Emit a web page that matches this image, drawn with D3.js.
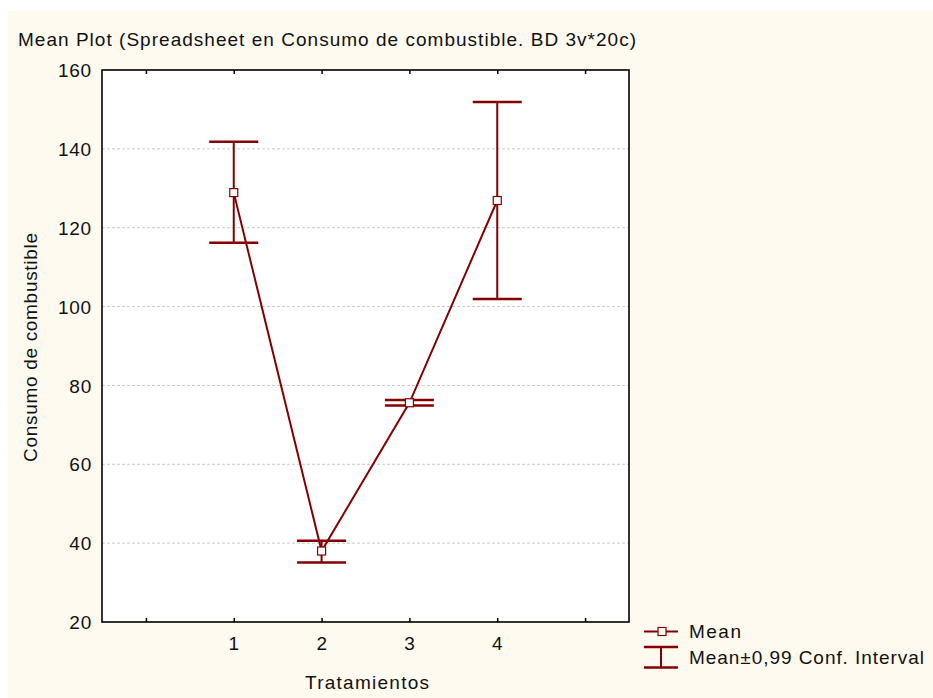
<!DOCTYPE html>
<html lang="es">
<head>
    <meta charset="UTF-8">
    <title>Mean Plot</title>
    <script src="https://d3js.org/d3.v7.min.js"></script>
    <style>
        body { margin: 0; background: #fff; }
        text { font-family: "Liberation Sans", Arial, sans-serif; fill: #111; }
    </style>
</head>
<body>
    <script>
        const categories = [1, 2, 3, 4];
        const means = [128.9, 38, 75.6, 126.9];
        const upper = [141.8, 40.6, 76.3, 151.9];
        const lower = [116.2, 35.1, 74.9, 101.9];
        const yTicks = [20, 40, 60, 80, 100, 120, 140, 160];
        const gridTicks = [40, 60, 80, 100, 120, 140];

        const width = 933, height = 698;
        const plotLeft = 102, plotTop = 70, plotRight = 629, plotBottom = 622;
        const red = "#850000";

        const svg = d3.select("body").append("svg")
            .attr("width", width)
            .attr("height", height);

        svg.append("rect")
            .attr("x", 8).attr("y", 11)
            .attr("width", width - 8).attr("height", height - 11)
            .attr("fill", "#fffaf0");

        const x = d3.scaleLinear().domain([-0.5, 5.5]).range([plotLeft, plotRight]);
        const y = d3.scaleLinear().domain([20, 160]).range([plotBottom, plotTop]);

        svg.append("rect")
            .attr("x", plotLeft).attr("y", plotTop)
            .attr("width", plotRight - plotLeft).attr("height", plotBottom - plotTop)
            .attr("fill", "#fff");

        // grid
        svg.append("g").selectAll("line").data(gridTicks).enter().append("line")
            .attr("x1", plotLeft).attr("x2", plotRight)
            .attr("y1", d => y(d)).attr("y2", d => y(d))
            .attr("stroke", "#c8c8c8")
            .attr("stroke-dasharray", "3,2");

        // axes
        const xTicks = [0, 1, 2, 3, 4, 5];
        const fmt = d => (d >= 1 && d <= 4) ? d : "";

        svg.append("g")
            .attr("transform", `translate(0,${plotBottom})`)
            .call(d3.axisBottom(x).tickValues(xTicks).tickFormat(fmt)
                .tickSizeInner(-4).tickSizeOuter(0).tickPadding(15));

        svg.append("g")
            .attr("transform", `translate(0,${plotTop})`)
            .call(d3.axisBottom(x).tickValues(xTicks).tickFormat("")
                .tickSizeInner(4).tickSizeOuter(0));

        svg.append("g")
            .attr("class", "yaxis")
            .attr("transform", `translate(${plotLeft},0)`)
            .call(d3.axisLeft(y).tickValues(yTicks).tickSize(0).tickPadding(10));

        svg.selectAll(".domain").remove();
        svg.selectAll(".tick line").attr("stroke", "#000").attr("stroke-width", 1.5);
        svg.selectAll(".tick text").attr("font-size", 19)
            .attr("letter-spacing", 0.8)
            .attr("font-family", "'Liberation Sans', Arial, sans-serif").attr("fill", "#111");
        svg.selectAll(".yaxis .tick text").attr("dy", "0.35em");

        svg.append("rect")
            .attr("x", plotLeft).attr("y", plotTop)
            .attr("width", plotRight - plotLeft).attr("height", plotBottom - plotTop)
            .attr("fill", "none")
            .attr("stroke", "#000")
            .attr("stroke-width", 1.6);

        // error bars
        const bars = svg.append("g");
        categories.forEach((c, i) => {
            bars.append("line")
                .attr("x1", x(c)).attr("x2", x(c))
                .attr("y1", y(upper[i])).attr("y2", y(lower[i]))
                .attr("stroke", red).attr("stroke-width", 2);
            [upper[i], lower[i]].forEach(v => {
                bars.append("line")
                    .attr("x1", x(c) - 24.5).attr("x2", x(c) + 24.5)
                    .attr("y1", y(v)).attr("y2", y(v))
                    .attr("stroke", red).attr("stroke-width", 2.5);
            });
        });

        // mean line
        const line = d3.line().x((d, i) => x(categories[i])).y(d => y(d));
        svg.append("path")
            .datum(means)
            .attr("d", line)
            .attr("fill", "none")
            .attr("stroke", red)
            .attr("stroke-width", 2);

        svg.append("g").selectAll("rect").data(means).enter().append("rect")
            .attr("x", (d, i) => x(categories[i]) - 4)
            .attr("y", d => y(d) - 4)
            .attr("width", 8).attr("height", 8)
            .attr("fill", "#fff")
            .attr("stroke", red)
            .attr("stroke-width", 1.2);

        // texts
        svg.append("text")
            .attr("x", 18).attr("y", 46)
            .attr("font-size", 19)
            .attr("textLength", 618).attr("lengthAdjust", "spacing")
            .text("Mean Plot (Spreadsheet en Consumo de combustible. BD 3v*20c)");

        svg.append("text")
            .attr("transform", "translate(37,347.5) rotate(-90)")
            .attr("text-anchor", "middle")
            .attr("font-size", 19)
            .attr("textLength", 229).attr("lengthAdjust", "spacing")
            .text("Consumo de combustible");

        svg.append("text")
            .attr("x", 367).attr("y", 688.5)
            .attr("text-anchor", "middle")
            .attr("font-size", 19)
            .attr("textLength", 124).attr("lengthAdjust", "spacing")
            .text("Tratamientos");

        // legend
        const lg = svg.append("g");
        lg.append("line")
            .attr("x1", 644).attr("x2", 678).attr("y1", 631.5).attr("y2", 631.5)
            .attr("stroke", red).attr("stroke-width", 2);
        lg.append("rect")
            .attr("x", 658).attr("y", 627.5).attr("width", 8).attr("height", 8)
            .attr("fill", "#fff").attr("stroke", red).attr("stroke-width", 1.2);
        lg.append("text").attr("x", 689).attr("y", 637.5).attr("font-size", 19)
            .attr("textLength", 52).attr("lengthAdjust", "spacing")
            .text("Mean");

        lg.append("line")
            .attr("x1", 661).attr("x2", 661).attr("y1", 647).attr("y2", 667.5)
            .attr("stroke", red).attr("stroke-width", 2);
        [647, 667.5].forEach(v => {
            lg.append("line")
                .attr("x1", 644).attr("x2", 678).attr("y1", v).attr("y2", v)
                .attr("stroke", red).attr("stroke-width", 2.5);
        });
        lg.append("text").attr("x", 689).attr("y", 663.5).attr("font-size", 19)
            .attr("textLength", 235).attr("lengthAdjust", "spacing")
            .text("Mean\u00b10,99 Conf. Interval");
    </script>
</body>
</html>
